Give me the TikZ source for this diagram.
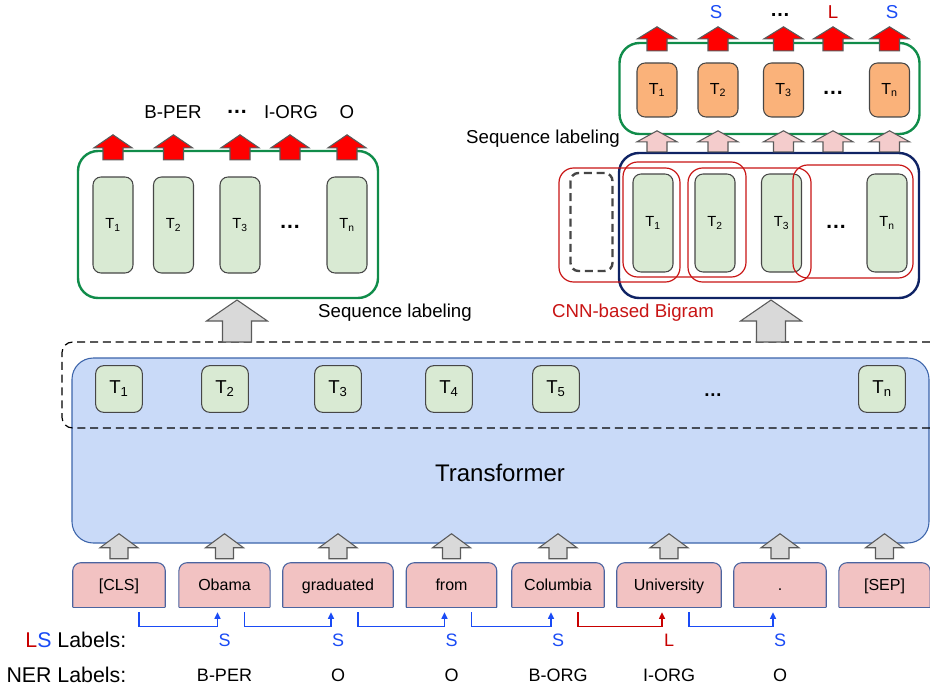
\documentclass[tikz,border=0pt]{standalone}
\usepackage{fontspec}
\setmainfont{Liberation Sans}
\usetikzlibrary{positioning, calc, backgrounds, arrows.meta}

% Блочная стрелка вверх: стиль, начало, длина, полуширина ствола, полуширина головки, высота головки
\newcommand{\blockarr}[6]{%
  \draw[#1] #2 ++(-#4,0) -- ++(0,-#3+#6) -- ++(#4-#5,0) -- ++(#5,-#6)
    -- ++(#5,#6) -- ++(#4-#5,0) -- ++(0,#3-#6) -- cycle;}

\tikzset{
  tbox/.style={draw=tdraw, fill=tfill, rounded corners=6pt, line width=0.8pt, inner sep=0pt},
  trftok/.style={tbox, minimum width=35pt, minimum height=35pt, font=\fontsize{14}{16}\selectfont},
  tallbox/.style={tbox, minimum width=30pt, minimum height=72pt, font=\fontsize{11}{13}\selectfont},
  orbox/.style={tbox, fill=orfill, minimum width=30pt, minimum height=40.5pt, font=\fontsize{12}{14}\selectfont},
  tok/.style={minimum height=33pt, inner sep=0pt, text height=1.9ex, text depth=0.2ex,
    font=\fontsize{12}{14}\selectfont},
  tokedge/.style={draw=tokdraw, fill=tokfill, line width=0.8pt, rounded corners=6pt},
  greenframe/.style={draw=framegreen, line width=1.8pt, rounded corners=15pt, minimum width=225pt},
  grayarr/.style={draw=arrdraw, fill=arrgray, line width=0.8pt},
  redarr/.style={draw=arrdraw, fill=red, line width=0.8pt},
  pinkarr/.style={draw=arrdraw, fill=arrpink, line width=0.8pt},
  bigram/.style={draw=bigramred, line width=0.9pt, rounded corners=11pt},
  lsarrow/.style={line width=1.1pt, -{Triangle[length=5pt, width=4.5pt]}},
  captext/.style={font=\fontsize{14}{16}\selectfont},
  dotsnode/.style={inner sep=1pt, font=\fontsize{16}{18}\selectfont\bfseries},
  lsval/.style={font=\fontsize{13.5}{16}\selectfont},
  rowtitle/.style={font=\fontsize{16}{19}\selectfont, anchor=east}
}

\begin{document}
\begin{tikzpicture}[x=0.75pt, y=-0.75pt]
  % Цвета
  \definecolor{trffill}{RGB}{201,218,248}
  \definecolor{trfdraw}{RGB}{60,100,170}
  \definecolor{tfill}{RGB}{217,234,211}
  \definecolor{tdraw}{RGB}{70,70,70}
  \definecolor{orfill}{RGB}{250,178,122}
  \definecolor{tokfill}{RGB}{242,194,194}
  \definecolor{tokdraw}{RGB}{75,100,160}
  \definecolor{framegreen}{RGB}{16,140,74}
  \definecolor{navy}{RGB}{15,35,100}
  \definecolor{bigramred}{RGB}{200,20,20}
  \definecolor{arrgray}{RGB}{217,217,217}
  \definecolor{arrpink}{RGB}{244,204,204}
  \definecolor{arrdraw}{RGB}{90,90,90}
  \definecolor{lsblue}{RGB}{26,75,245}
  \definecolor{lsred}{RGB}{200,0,0}

  \useasboundingbox (0,0) rectangle (930,688);

  % Transformer
  \node[draw=trfdraw, fill=trffill, rounded corners=16pt, line width=0.8pt,
        minimum width=642.75pt, minimum height=138.75pt] (trf) at (500.5,450.5) {};
  \node[font=\fontsize{18}{20}\selectfont] (trflabel) at (500,473) {Transformer};
  \draw[line width=0.9pt, dash pattern=on 6pt off 3.6pt, rounded corners=8pt]
    (930,342) -- (62,342) -- (62,428) -- (930,428);
  \foreach \n/\x/\i in {e1/119/1, e2/225/2, e3/338/3, e4/449/4, e5/556/5, en/882/n}
    \node[trftok] (\n) at (\x,389) {T\textsubscript{\i}};
  \node[inner sep=1pt, font=\fontsize{14}{16}\selectfont\bfseries] (edots) at (713,395) {\textellipsis};

  % Входные токены
  \foreach \n/\x/\w/\t in {cls/119/69/{[CLS]}, obama/224.5/68/Obama, graduated/338/82.5/graduated,
      from/451.5/67.5/from, columbia/558/69/Columbia, university/669/78/University,
      dot/780/69/., sep/884.5/68/{[SEP]}}
    \node[tok, minimum width=\w pt] (\n) at (\x,585) {\t};
  \begin{scope}[on background layer]
    \foreach \n in {cls,obama,graduated,from,columbia,university,dot,sep} {
      \filldraw[tokedge] (\n.south west) -- (\n.north west) -- (\n.north east) -- (\n.south east);
      \draw[draw=tokdraw, line width=0.8pt] (\n.south west) -- (\n.south east);
    }
  \end{scope}

  % Стрелки токенов к Transformer
  \foreach \n in {cls,obama,graduated,from,columbia,university,dot,sep}
    \blockarr{grayarr}{($(\n.north)+(0,-4)$)}{25}{9}{19}{14};

  % Метки LS
  \foreach \a/\b/\c in {cls/obama/lsblue, obama/graduated/lsblue, graduated/from/lsblue,
      from/columbia/lsblue, columbia/university/lsred, university/dot/lsblue}
    \draw[lsarrow, \c] ($(\a.south)+(20,5)$) -- ++(0,14) -| ($(\b.south)+(-7,5)$);
  \foreach \n/\s/\c in {obama/S/lsblue, graduated/S/lsblue, from/S/lsblue,
      columbia/S/lsblue, university/L/lsred, dot/S/lsblue}
    \node[lsval, text=\c] (ls-\n) at ($(\n.south)+(0,33)$) {\s};
  \foreach \n/\s in {obama/B-PER, graduated/O, from/O, columbia/B-ORG, university/I-ORG, dot/O}
    \node[lsval] (ner-\n) at ($(\n.south)+(0,68)$) {\s};
  \node[rowtitle] (lstitle) at (131,640) {\textcolor{lsred}{L}\textcolor{lsblue}{S} Labels:};
  \node[rowtitle] (nertitle) at (131,675) {NER Labels:};

  % Левый блок: Sequence labeling
  \node[greenframe, minimum height=110.25pt] (lbox) at (228,224.5) {};
  \foreach \n/\x/\i in {lt1/113/1, lt2/173.5/2, lt3/240/3, ltn/347/n}
    \node[tallbox] (\n) at (\x,225) {T\textsubscript{\i}};
  \node[dotsnode] (ldots) at (290,227) {\textellipsis};
  \foreach \n in {lt1,lt2,lt3,ldots,ltn}
    \blockarr{redarr}{($(\n |- lbox.north)+(0,10)$)}{25}{10}{19}{13};
  \node[captext] (lab-bper) at (173,112) {B-PER};
  \node[dotsnode] (lab-dots) at (237,112) {\textellipsis};
  \node[captext] (lab-iorg) at (291,112) {I-ORG};
  \node[captext] (lab-o) at (347,112) {O};
  \coordinate (lup) at (237,342);
  \blockarr{grayarr}{(lup)}{42}{14.5}{30.5}{21};
  \node[captext] (lcap) at (395,313) {Sequence labeling};

  % Правый блок: CNN-based Bigram
  \node[draw=navy, line width=1.8pt, rounded corners=15pt, minimum width=225pt,
        minimum height=108.75pt] (navybox) at (769,225.5) {};
  \foreach \n/\x/\i in {nt1/653/1, nt2/715/2, nt3/781.5/3, ntn/887/n}
    \node[tallbox, minimum height=73.5pt] (\n) at (\x,223) {T\textsubscript{\i}};
  \node[draw=tdraw, line width=1.8pt, dash pattern=on 6pt off 3.5pt, rounded corners=6pt,
        minimum width=31.5pt, minimum height=73.5pt] (npad) at (591.5,222) {};
  \node[dotsnode] (ndots) at (836,227) {\textellipsis};
  \draw[bigram] (559,168) rectangle (680,282);
  \draw[bigram] (623,162) rectangle (746,277);
  \draw[bigram] (688,168) rectangle (811,282);
  \draw[bigram] (793,165) rectangle (913,278);
  \node[captext, text=bigramred] (bigramcap) at (633,313) {CNN-based Bigram};
  \coordinate (rup) at (771,342);
  \blockarr{grayarr}{(rup)}{42}{14.5}{30.5}{21};

  % Верхний блок
  \node[greenframe, minimum height=68.25pt] (rtop) at (769.5,88.5) {};
  \foreach \n/\x/\i in {ot1/657/1, ot2/718/2, ot3/783.5/3, otn/889.5/n}
    \node[orbox] (\n) at (\x,90) {T\textsubscript{\i}};
  \node[dotsnode] (odots) at (833,93) {\textellipsis};
  \foreach \n in {ot1,ot2,ot3,odots,otn}
    \blockarr{pinkarr}{(\n |- navybox.north)}{21}{10}{20}{11};
  \foreach \n in {ot1,ot2,ot3,odots,otn}
    \blockarr{redarr}{($(\n |- rtop.north)+(0,9)$)}{24}{10}{19.5}{12};
  \node[captext, text=lsblue] (rlab-s1) at (716,12) {S};
  \node[dotsnode, font=\fontsize{15}{17}\selectfont\bfseries] (rlab-dots) at (780,15) {\textellipsis};
  \node[captext, text=lsred] (rlab-l) at (833,12) {L};
  \node[captext, text=lsblue] (rlab-s2) at (892,12) {S};
  \node[captext] (rcap) at (543,139) {Sequence labeling};
\end{tikzpicture}
\end{document}
